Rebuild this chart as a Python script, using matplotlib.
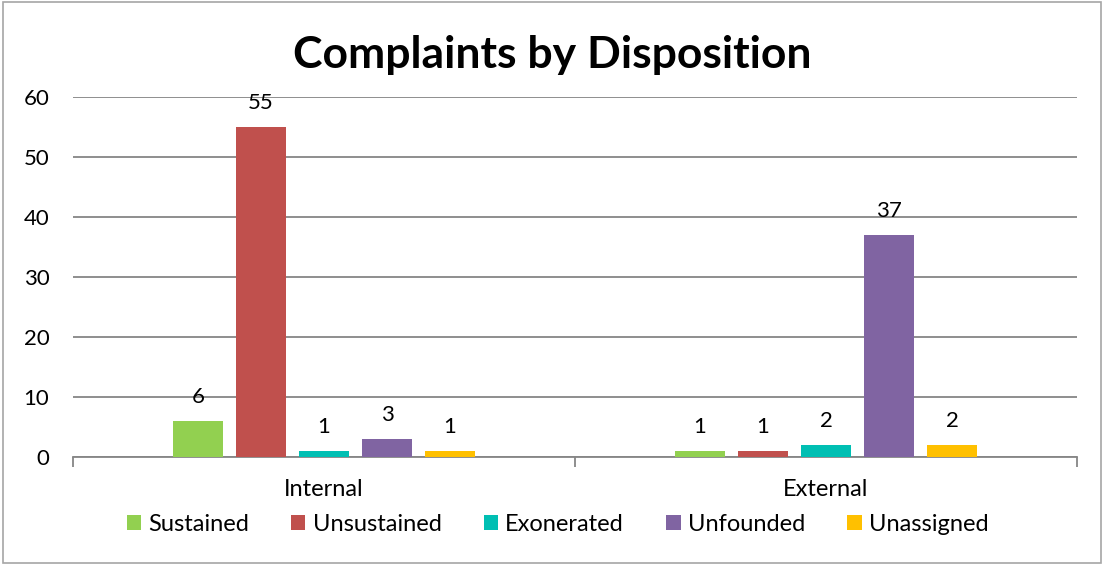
import matplotlib.pyplot as plt
import numpy as np
from matplotlib.patches import Rectangle

categories = ['Internal', 'External']
series = ['Sustained', 'Unsustained', 'Exonerated', 'Unfounded', 'Unassigned']
values = {
    'Sustained': [6, 1],
    'Unsustained': [55, 1],
    'Exonerated': [1, 2],
    'Unfounded': [3, 37],
    'Unassigned': [1, 2],
}
colors = ['#92d050', '#c0504d', '#00bfb3', '#8064a2', '#ffc000']

plt.rcParams['font.family'] = ['Lato', 'DejaVu Sans']

fig = plt.figure(figsize=(11.04, 5.65), dpi=100)
ax = fig.add_axes([0.0661, 0.1912, 0.9094, 0.6371])

x = np.arange(len(categories))
width = 0.1
step = 0.1255
for i, name in enumerate(series):
    pos = x + (i - 2) * step
    bars = ax.bar(pos, values[name], width, color=colors[i], label=name, zorder=3)
    for b, v in zip(bars, values[name]):
        ax.annotate(str(v), (b.get_x() + b.get_width() / 2, v), xytext=(0, 10),
                    textcoords='offset points', ha='center', va='bottom', fontsize=16)

ax.set_xlim(-0.5, 1.5)
ax.set_ylim(0, 60)
ax.set_yticks(range(0, 61, 10))
ax.yaxis.grid(True, color='#868686', lw=1.3, zorder=0)
for s in ['top', 'right', 'left']:
    ax.spines[s].set_visible(False)
ax.spines['bottom'].set_color('#868686')
ax.spines['bottom'].set_linewidth(1.3)
ax.tick_params(axis='y', length=0, labelsize=16, pad=17)
ax.set_xticks([-0.5, 0.5, 1.5], minor=False)
ax.set_xticklabels([])
ax.tick_params(axis='x', which='major', length=7, width=1.3, color='#868686')
ax.set_xticks(x, minor=True)
ax.set_xticklabels(categories, minor=True)
ax.tick_params(axis='x', which='minor', length=0, labelsize=17, pad=16)

fig.text(0.5, 0.902, 'Complaints by Disposition', fontsize=32, fontweight='bold',
         ha='center', va='center')

fig.legend(loc='center', bbox_to_anchor=(0.505, 0.072), ncol=5, frameon=False,
           fontsize=17, handlelength=0.6, handleheight=0.6, handletextpad=0.3,
           columnspacing=1.8)

fig.patches.append(Rectangle((0.003, 0.004), 0.994, 0.992, transform=fig.transFigure,
                             fill=False, edgecolor='#a6a6a6', lw=1.2))

plt.savefig('out.png', dpi=100)
plt.close()
